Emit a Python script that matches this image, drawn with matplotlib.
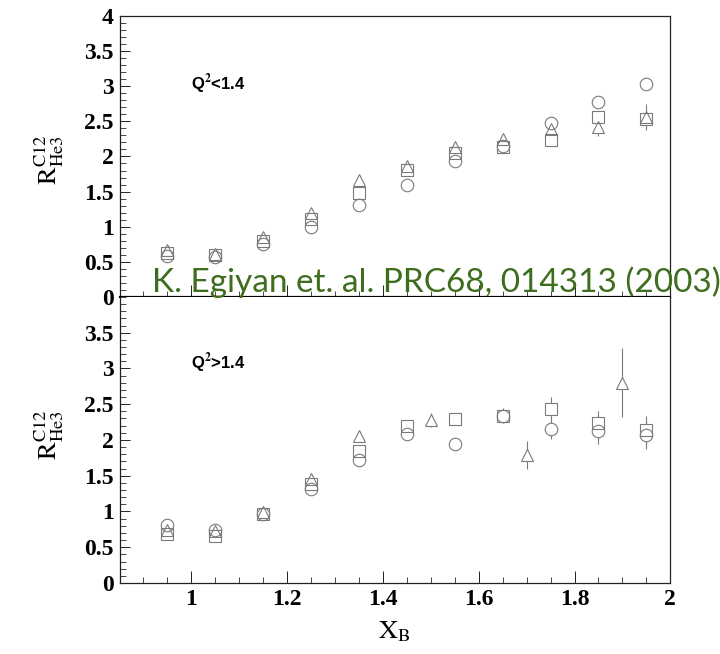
import numpy as np
import matplotlib.pyplot as plt
from matplotlib.ticker import MultipleLocator

# R(C12/He3) vs x_B, three data sets per Q^2 bin
x_lo = [0.95, 1.05, 1.15, 1.25, 1.35, 1.45, 1.55, 1.65, 1.75, 1.85, 1.95]
circ_lo = [0.58, 0.57, 0.75, 1.00, 1.31, 1.59, 1.93, 2.15, 2.47, 2.77, 3.03]
circ_lo_err = [0.03, 0.03, 0.03, 0.03, 0.04, 0.04, 0.05, 0.05, 0.06, 0.06, 0.07]
sq_lo = [0.62, 0.60, 0.79, 1.11, 1.48, 1.81, 2.05, 2.13, 2.23, 2.56, 2.53]
sq_lo_err = [0.03, 0.03, 0.03, 0.04, 0.04, 0.05, 0.05, 0.06, 0.07, 0.09, 0.10]
tri_lo = [0.67, 0.61, 0.86, 1.20, 1.66, 1.86, 2.14, 2.25, 2.39, 2.42, 2.56]
tri_lo_err = [0.03, 0.03, 0.04, 0.04, 0.05, 0.05, 0.06, 0.07, 0.08, 0.13, 0.19]

x_hi_c = [0.95, 1.05, 1.15, 1.25, 1.35, 1.45, 1.55, 1.65, 1.75, 1.85, 1.95]
circ_hi = [0.81, 0.74, 0.96, 1.32, 1.72, 2.08, 1.95, 2.34, 2.16, 2.13, 2.07]
circ_hi_err = [0.03, 0.03, 0.04, 0.05, 0.06, 0.07, 0.07, 0.09, 0.14, 0.18, 0.20]
x_hi_s = [0.95, 1.05, 1.15, 1.25, 1.35, 1.45, 1.55, 1.65, 1.75, 1.85, 1.95]
sq_hi = [0.69, 0.66, 0.96, 1.39, 1.84, 2.20, 2.29, 2.34, 2.43, 2.23, 2.14]
sq_hi_err = [0.03, 0.03, 0.04, 0.05, 0.06, 0.07, 0.08, 0.10, 0.17, 0.18, 0.20]
x_hi_t = [0.95, 1.05, 1.15, 1.25, 1.35, 1.50, 1.70, 1.90]
tri_hi = [0.74, 0.72, 0.99, 1.46, 2.06, 2.28, 1.79, 2.80]
tri_hi_err = [0.03, 0.03, 0.04, 0.05, 0.07, 0.10, 0.20, 0.48]

yticks_lo = [0, 0.5, 1, 1.5, 2, 2.5, 3, 3.5, 4]
yticks_hi = [0, 0.5, 1, 1.5, 2, 2.5, 3, 3.5]
xticks = [1, 1.2, 1.4, 1.6, 1.8, 2]

gray = '#7a7a7a'
tick_font = {'family': 'Liberation Serif', 'weight': 'bold', 'size': 17}

plt.rcParams['mathtext.fontset'] = 'stix'
fig = plt.figure(figsize=(7.2, 6.54), dpi=100)
ax1 = fig.add_axes([0.166, 0.546, 0.765, 0.4295])
ax2 = fig.add_axes([0.166, 0.1086, 0.765, 0.4374])


def draw(ax, sets):
    # error bars first, then white-filled markers to blank the bar inside
    # each marker, then hollow outlines on top so overlaps stay visible
    for xs, ys, es, m in sets:
        ax.errorbar(xs, ys, yerr=es, fmt='none', ecolor=gray,
                    elinewidth=0.8, capsize=0, zorder=2)
    for xs, ys, es, m in sets:
        ax.plot(xs, ys, m, ms=9, mfc='white', mec='none', ls='none', zorder=3)
    for xs, ys, es, m in sets:
        ax.plot(xs, ys, m, ms=9, mfc='none', mec=gray, mew=0.8,
                ls='none', zorder=4)


draw(ax1, [(x_lo, circ_lo, circ_lo_err, 'o'),
           (x_lo, sq_lo, sq_lo_err, 's'),
           (x_lo, tri_lo, tri_lo_err, '^')])
draw(ax2, [(x_hi_c, circ_hi, circ_hi_err, 'o'),
           (x_hi_s, sq_hi, sq_hi_err, 's'),
           (x_hi_t, tri_hi, tri_hi_err, '^')])

for ax, yt in [(ax1, yticks_lo), (ax2, yticks_hi)]:
    ax.set_xlim(0.85, 2.0)
    ax.set_ylim(0, 4)
    ax.set_yticks(yt)
    ax.set_yticklabels([('%g' % v) for v in yt], fontdict=tick_font)
    ax.yaxis.set_minor_locator(MultipleLocator(0.1))
    ax.set_xticks(xticks)
    ax.xaxis.set_minor_locator(MultipleLocator(0.05))
    ax.tick_params(which='both', direction='in', top=False, right=False)
    ax.tick_params(which='major', length=9, width=0.6, pad=4)
    ax.tick_params(which='minor', length=4, width=0.5)
    ax.tick_params(axis='y', which='major', length=7)
    for s in ax.spines.values():
        s.set_linewidth(0.9)
        s.set_color('#222222')

ax1.set_xticklabels([])
ax1.spines['bottom'].set_linewidth(1.6)
ax1.spines['bottom'].set_color('black')
ax2.spines['top'].set_visible(False)
ax2.set_xticklabels([('%g' % v) for v in xticks], fontdict=tick_font)
for ax in (ax1, ax2):
    for t in ax.get_xticklabels() + ax.get_yticklabels():
        t.set_fontweight('heavy')

ax1.text(0.13, 0.737, r'Q$^{\mathbf{2}}$<1.4', transform=ax1.transAxes,
         family='Liberation Sans', weight='bold', size=12)
ax2.text(0.13, 0.75, r'Q$^{\mathbf{2}}$>1.4', transform=ax2.transAxes,
         family='Liberation Sans', weight='bold', size=12)

ylab = r'$\mathrm{R}^{\mathrm{C12}}_{\mathrm{He3}}$'
fig.text(0.068, 0.755, ylab, rotation=90, ha='center', va='center', size=19)
fig.text(0.068, 0.335, ylab, rotation=90, ha='center', va='center', size=19)
fig.text(0.548, 0.035, r'$\mathrm{X}_{\mathrm{B}}$', ha='center', va='center', size=19)

fig.text(0.211, 0.553, 'K. Egiyan et. al. PRC68, 014313 (2003)',
         family='Lato', size=24, color='#3f6d1e', ha='left', va='baseline')

fig.savefig('out.png', dpi=100)
